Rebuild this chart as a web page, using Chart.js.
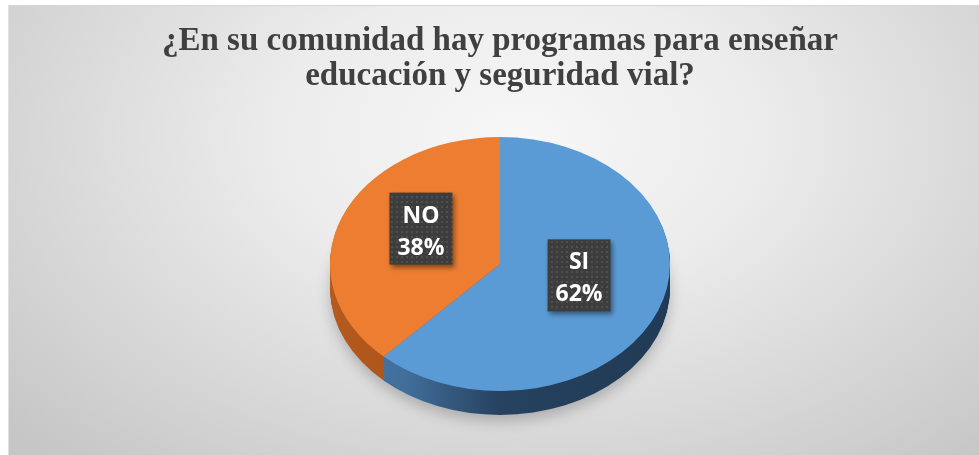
<!DOCTYPE html>
<html>
<head>
<meta charset="utf-8">
<script src="https://cdn.jsdelivr.net/npm/chart.js@4.4.1/dist/chart.umd.min.js"></script>
<style>
    html, body { margin: 0; padding: 0; background: #ffffff; }
    #frame {
        position: absolute; left: 8px; top: 5px; width: 980px; height: 460px;
        border-top: 1px solid #d6d6d6; border-left: 1px solid #e0e0e0;
        background: radial-gradient(ellipse 70% 95% at 52% 28%, #f7f7f7 0%, #ececec 35%, #d3d3d3 78%, #c6c6c6 100%);
    }
    #wrap { position: absolute; left: 0; top: 0; width: 979px; height: 455px; }
</style>
</head>
<body>
<div id="frame"></div>
<div id="wrap"><canvas id="pieChart"></canvas></div>
<script>
// Chart data
const categories = ['SI', 'NO'];
const values = [62, 38];
const titleLines = ['¿En su comunidad hay programas para enseñar', 'educación y seguridad vial?'];

// Colours for the top face and the side wall
const topColors = ['#5b9bd5', '#ed7d31'];
const TILT = 0.747;   // vertical squash of the pie
const DEPTH = 24;     // thickness of the 3D wall

// Small dotted pattern for the label boxes
function makePattern(ctx) {
    const c = document.createElement('canvas');
    c.width = 5; c.height = 5;
    const p = c.getContext('2d');
    p.fillStyle = '#3d3d3d';
    p.fillRect(0, 0, 5, 5);
    p.fillStyle = '#4f4f4f';
    p.fillRect(1, 1, 2, 2);
    return ctx.createPattern(c, 'repeat');
}

function sideFill(ctx, i, r) {
    const g = ctx.createLinearGradient(-r, 0, r, 0);
    if (i === 0) {
        g.addColorStop(0, '#4a79a8');
        g.addColorStop(0.22, '#416e9b');
        g.addColorStop(0.5, '#26425f');
        g.addColorStop(1, '#213a55');
    } else {
        g.addColorStop(0, '#b55a1e');
        g.addColorStop(0.3, '#a9521a');
        g.addColorStop(1, '#9c4a16');
    }
    return g;
}

// Draws the wall under the pie, then squashes the top face
const tiltPlugin = {
    id: 'tilt',
    beforeDatasetsDraw(chart) {
        const ctx = chart.ctx;
        const arcs = chart.getDatasetMeta(0).data;
        const cx = arcs[0].x, cy = arcs[0].y;
        for (let d = DEPTH; d > 0; d--) {
            ctx.save();
            if (d === DEPTH) {
                ctx.shadowColor = 'rgba(0,0,0,0.22)';
                ctx.shadowBlur = 14;
                ctx.shadowOffsetY = 6;
            }
            ctx.translate(cx, cy + d);
            ctx.scale(1, TILT);
            arcs.forEach((arc, i) => {
                ctx.beginPath();
                ctx.moveTo(0, 0);
                ctx.arc(0, 0, arc.outerRadius, arc.startAngle, arc.endAngle);
                ctx.closePath();
                ctx.fillStyle = sideFill(ctx, i, arc.outerRadius);
                ctx.fill();
            });
            ctx.restore();
        }
        ctx.save();
        ctx.translate(cx, cy);
        ctx.scale(1, TILT);
        ctx.translate(-cx, -cy);
    },
    afterDatasetsDraw(chart) {
        chart.ctx.restore();
    }
};

// Data labels in dark boxes
const boxLabelPlugin = {
    id: 'boxLabels',
    afterDraw(chart) {
        const ctx = chart.ctx;
        const arcs = chart.getDatasetMeta(0).data;
        const total = values.reduce((a, b) => a + b, 0);
        const pattern = makePattern(ctx);
        arcs.forEach((arc, i) => {
            const mid = (arc.startAngle + arc.endAngle) / 2;
            const r = arc.outerRadius * 0.5;
            const lx = arc.x + Math.cos(mid) * r;
            const ly = arc.y + Math.sin(mid) * r * TILT - 12;
            const w = 63, h = 72;
            ctx.save();
            ctx.shadowColor = 'rgba(0,0,0,0.45)';
            ctx.shadowBlur = 5;
            ctx.shadowOffsetX = 2;
            ctx.shadowOffsetY = 3;
            ctx.fillStyle = pattern;
            ctx.fillRect(lx - w / 2, ly - h / 2, w, h);
            ctx.restore();

            ctx.save();
            ctx.fillStyle = '#ffffff';
            ctx.font = 'bold 23px "Open Sans"';
            ctx.textAlign = 'center';
            ctx.textBaseline = 'alphabetic';
            ctx.fillText(categories[i], lx, ly - 6);
            ctx.fillText(Math.round(values[i] / total * 100) + '%', lx, ly + 26);
            ctx.restore();
        });
    }
};

const ctx = document.getElementById('pieChart').getContext('2d');
const pieChart = new Chart(ctx, {
    type: 'pie',
    data: {
        labels: categories,
        datasets: [{
            data: values,
            backgroundColor: topColors,
            borderWidth: 0,
            hoverOffset: 0,
            clip: false
        }]
    },
    options: {
        responsive: true,
        maintainAspectRatio: false,
        animation: false,
        layout: {
            padding: { left: 21, right: 0, top: 0, bottom: 21 }
        },
        plugins: {
            legend: { display: false },
            tooltip: { enabled: false },
            title: {
                display: true,
                text: titleLines,
                color: '#404040',
                font: { family: '"Liberation Serif", "Times New Roman", serif', size: 33, weight: 'bold', lineHeight: 1.06 },
                padding: { top: 24, bottom: 0 }
            }
        }
    },
    plugins: [tiltPlugin, boxLabelPlugin]
});
</script>
</body>
</html>
